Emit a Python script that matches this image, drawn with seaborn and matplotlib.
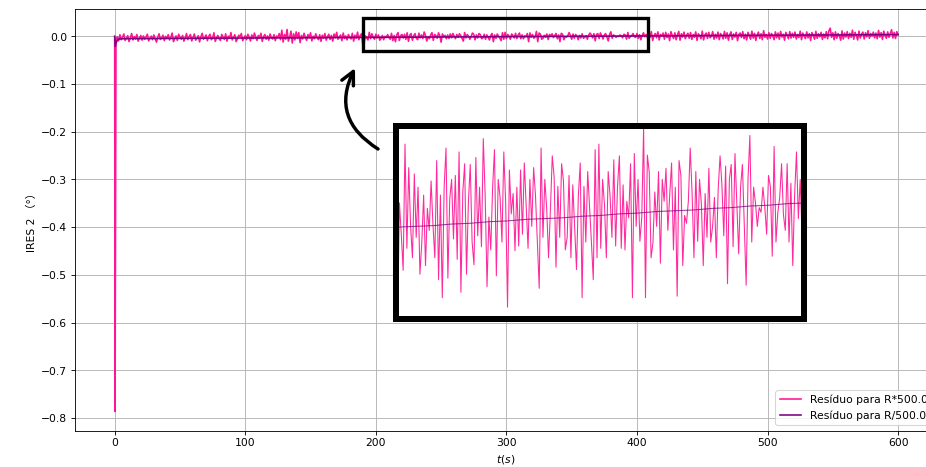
import numpy as np
import pandas as pd
import matplotlib
matplotlib.use("Agg")
import matplotlib.pyplot as plt
from matplotlib.patches import Rectangle
import seaborn as sns

plt.rcParams['font.family'] = ['DejaVu Sans', 'Noto Sans CJK SC']

# ---------------- data (values in units of 1e-4 degrees) ----------------
pink_start_t = [0.0, 0.3]
pink_start_v = [0, -7865]
# t = 1 ... 189 s
pink_vals_a = [
    -60, -10, -95, 35, -70, -20, 50, -85, -40, 15, -110, -30, 60, -75, -5, -55, 40, -100, -35, 20,
    -80, 10, -60, -15, 45, -95, -40, 5, -70, 30, -50, -120, -20, 55, -65, -30, 25, -90, 0, -45,
    35, -75, -25, 70, -110, -50, 10, -85, 45, -15, -60, 20, -100, -35, 60, -70, -5, 40, -95, -20,
    50, -80, -45, 15, -115, -10, 65, -60, -25, 30, -90, 0, 45, -70, -40, 75, -105, -30, 20, -55,
    -85, 40, -15, -65, 55, -100, 5, -40, 80, -75, -20, 35, -110, -50, 25, -10, 60, -90, -35, 15,
    -70, 45, -20, -95, 30, -50, 70, -15, -85, 20, -40, 65, -105, -5, 40, -60, 10, -80, 50, -25,
    -55, 35, -90, 10, -30, 60, -70, 130, -120, 40, -60, 145, -100, -20, 110, -140, 55, -75, 95, -45,
    80, -130, 20, -55, 65, -10, -85, 40, -35, 75, -95, 5, -50, 55, -20, -70, 35, -105, 25, -40,
    60, -80, -5, 45, -65, 20, -100, 50, -30, 85, -60, -15, 30, -90, 70, -45, 10, -75, 40, -20,
    -55, 65, -100, 25, -40, 90, -70, 15, 55,
]
# t = 190 ... 410 s (the zoomed window)
pink_vals_b = [
    -180, -146, 10, -30, -76, 85, -48, 55, -20, -60,
    47, -34, 30, -81, -41, 20, -70, 3, -25, 38,
    -18, -60, 64, -88, 20, -111, 30, 80, -86, 15,
    40, -36, 45, -62, 75, -104, 24, 60, -81, 10,
    59, -40, -69, 68, -32, 30, -46, 92, 20, -97,
    -8, -50, 30, 78, -83, 40, 17, -40, 75, 10,
    -123, 52, -4, 22, -51, 30, -45, 52, -30, 61,
    5, -48, 40, -20, 55, 19, -40, -99, 80, -34,
    40, 3, -60, 1, 70, 43, -72, 31, -34, 60,
    38, -50, -34, 45, -60, 33, -20, -75, 20, 61,
    -111, 31, -40, 50, 5, -40, -88, 78, -60, 85,
    -48, 40, 8, -60, 50, 19, -34, 65, -45, 31,
    70, -48, 33, -50, 12, -9, 60, -111, 73, -20,
    40, -39, -9, 106, -111, 71, 50, -60, -41, 24,
    -20, 50, -67, 40, 12, 54, -25, 20, 61, -50,
    30, -109, 64, 45, -70, -6, -16, 12, 80, 22,
    -60, 50, -39, 40, 8, -70, 22, -34, 54, -40,
    -20, 17, -60, 27, 70, 33, -32, 57, -93, 40,
    59, -46, 73, 10, -55, 30, 59, -20, -95, 40,
    96, -40, 30, 10, -20, 4, -2, 30, 5, -30,
    45, 31, -58, 82, -40, -2, 17, 60, -5, -25,
    60, -40, 35, -70, 20, 75, -10, 40, -30, 65,
    -20,
]
# t = 411 ... 600 s
pink_vals_c = [
    100, -85, 15, 60, -30, 95, -75, 40, 5, 70,
    -60, 85, -25, 50, -90, 100, 20, -45, 75, -70, 35, 105, -80, 55, -15, 90, -50, 25, 65, -40,
    80, -65, 40, -20, 95, -85, 55, 15, -50, 110, -75, 30, 70, -45, 85, -30, 5, 100, -60, 45,
    -35, 90, -70, 60, 20, -55, 105, -40, 75, -80, 35, 95, -65, 50, -15, 85, -90, 40, 70, -25,
    100, -50, 45, -75, 85, 15, -60, 110, -35, 65, -85, 30, 90, -45, 55, -70, 120, -20, 40, -55,
    80, -40, 60, 10, -70, 95, -30, 70, -60, 105, -15, 45, -80, 85, 25, -50, 100, -35, 65, -20,
    90, -55, 40, -25, 110, -70, 70, 5, -45, 95, -30, 60, -85, 80, 20, -60, 105, -40, 55, -10,
    85, -65, 50, -30, 100, -50, 120, 172, -20, 75, -70, 95, -40, 60, 10, -80, 115, -55, 70, -15,
    100, -45, 65, -20, 130, -60, 85, 15, -75, 110, -35, 50, 90, -55, 75, -10, 120, -40, 60, 5,
    90, -30, 70, -50, 125, -15, 80, -65, 110, 20, -40, 95, -20, 60, 140, -35, 85, -45, 100, 30,
]

purple_t = [0, 0.5, 1, 2, 3, 5] + list(range(10, 601, 10))
purple_vals = [0, -210, -140, -80, -60, -50,
               -47, -46, -45, -43, -41, -40, -38, -37, -36, -34,
               -33, -31, -30, -29, -27, -26, -24, -23, -21, -20,
               -19, -17, -16, -14, -13, -11, -10, -9, -7, -6,
               -4, -3, -1, 0, 1, 3, 4, 6, 7, 9,
               10, 11, 13, 14, 16, 17, 19, 20, 21, 23,
               24, 26, 27, 29, 30, 31, 33, 34, 36, 37]

label_pink = "Resíduo para R*500.0"
label_purple = "Resíduo para R/500.0"
xticks = [0, 100, 200, 300, 400, 500, 600]
yticks = [-0.8, -0.7, -0.6, -0.5, -0.4, -0.3, -0.2, -0.1, 0.0]

pink_color = "#ff1493"
purple_color = "#800080"

pink_vals = pink_vals_a + pink_vals_b + pink_vals_c
t_pink = np.concatenate([pink_start_t, np.arange(1, len(pink_vals) + 1)])
v_pink = np.array(pink_start_v + pink_vals) * 1e-4
df_pink = pd.DataFrame({"t": t_pink, "v": v_pink})
df_purple = pd.DataFrame({"t": np.array(purple_t, dtype=float),
                          "v": np.array(purple_vals) * 1e-4})

# ---------------- figure ----------------
DPI = 77.2
fig = plt.figure(figsize=(926.3 / DPI, 467.3 / DPI), dpi=DPI)
W, H = 926.0, 467.0
ax = fig.add_axes([74.7 / W, 36.3 / H, (937.0 - 74.7) / W, (457.7 - 36.3) / H])

sns.lineplot(data=df_pink, x="t", y="v", ax=ax, color=pink_color, lw=1.5,
             label=label_pink, estimator=None, sort=False)
sns.lineplot(data=df_purple, x="t", y="v", ax=ax, color=purple_color, lw=1.5,
             label=label_purple, estimator=None, sort=False)

ax.set_xlim(-30.6, 630)
ax.set_ylim(-0.8267, 0.0574)
ax.set_xticks(xticks)
ax.set_yticks(yticks)
ax.grid(True, color="#b0b0b0", lw=0.8)
ax.set_axisbelow(True)
ax.set_xlabel("$t(s)$")
ax.set_ylabel("IRES 2 （°）")
ax.legend(loc="lower right")

# zoom rectangle
ax.add_patch(Rectangle((190.4, -0.0303), 218.4, 0.068, fill=False,
                       lw=3.1, ec="black", zorder=6))

# curved arrow
ax.annotate("", xy=(355, H - 68), xycoords="figure pixels",
            xytext=(378, H - 149), textcoords="figure pixels",
            arrowprops=dict(arrowstyle="->", lw=3.2, color="black",
                            connectionstyle="arc3,rad=-0.45",
                            shrinkA=0, shrinkB=0, mutation_scale=30))

# inset
axin = fig.add_axes([396.3 / W, (H - 319.0) / H, (803.3 - 396.3) / W, (319.0 - 126.3) / H])
axin.set_facecolor("white")
sns.lineplot(data=df_pink, x="t", y="v", ax=axin, color=pink_color, lw=1.0,
             alpha=0.9, estimator=None, sort=False, legend=False)
sns.lineplot(data=df_purple, x="t", y="v", ax=axin, color=purple_color, lw=1.0,
             alpha=0.75, estimator=None, sort=False, legend=False)
axin.set_xlim(190.4, 408.8)
axin.set_ylim(-0.0138, 0.0108)
axin.set_xticks([])
axin.set_yticks([])
axin.set_xlabel("")
axin.set_ylabel("")
for s in axin.spines.values():
    s.set_linewidth(5.6)
    s.set_color("black")

fig.savefig("out.png", dpi=DPI)
